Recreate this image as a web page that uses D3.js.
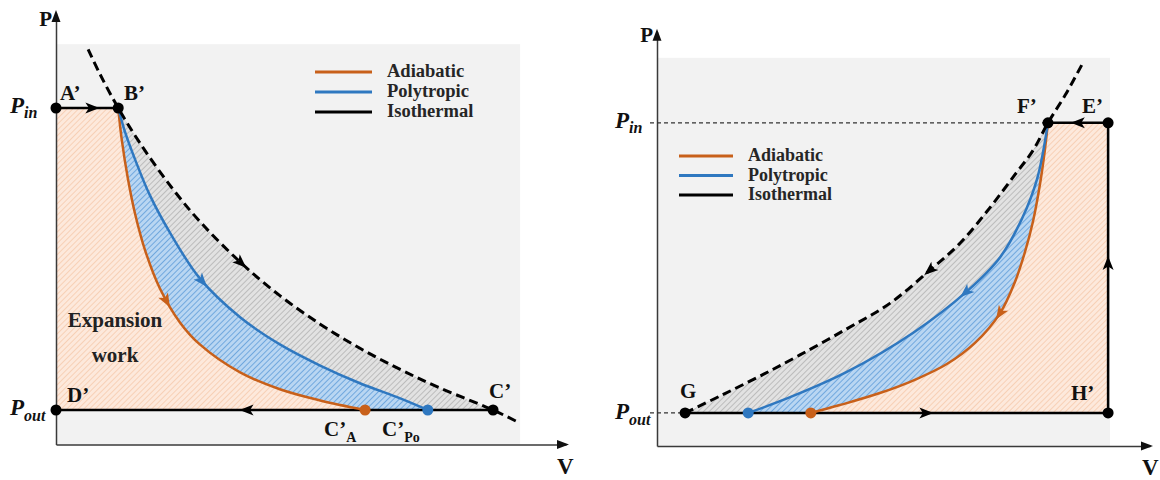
<!DOCTYPE html>
<html><head><meta charset="utf-8">
<script src="https://cdn.jsdelivr.net/npm/d3@7"></script>
<style>
body{margin:0;background:#fff}
svg{display:block}
</style>
</head><body>
<svg id="chart" width="1160" height="480"></svg>
<script>
// ---------------- DATA (V, P) in relative units ----------------
const P_IN = 78, P_OUT = 8;
const legendNames = ["Adiabatic", "Polytropic", "Isothermal"];

// Left panel: expansion
const leftPointNames = ["A’", "B’", "C’", "D’"];
const leftA = [0, 78], leftB = [12.2, 78], leftC = [85.7, 8], leftD = [0, 8];
const leftCA = [60.6, 8], leftCPo = [72.9, 8];
const leftAdiabatic = [[12.2,78],[12.9,70.6],[14.1,61.6],[15.5,53.5],[17.5,44.9],[20.4,36.1],[24.3,28.3],[28.2,23.2],[36.1,16.7],[43.9,12.8],[51.8,10.2],[60.6,8]];
const leftPolytropic = [[12.2,78],[13.5,72.6],[15.5,66.1],[18.4,57.8],[22.4,49.0],[28.2,38.5],[36.1,29.5],[43.9,23.2],[51.8,18.3],[59.6,14.2],[67.5,10.7],[72.9,8]];
const leftIsothermal = [[6.3,91.6],[8.6,85.9],[12.2,78],[16.5,69.8],[22.4,60.0],[28.2,51.7],[36.1,42.3],[43.9,34.5],[51.8,27.9],[59.6,22.3],[67.5,17.4],[75.3,13.1],[85.7,8],[90.4,5.3]];

// Right panel: compression
const rightPointNames = ["E’", "F’", "G", "H’"];
const rightG = [5.7, 8], rightF = [79.3, 78], rightE = [91.5, 78], rightH = [91.5, 8];
const rightDotA = [31.2, 8], rightDotPo = [18.5, 8];
const rightAdiabatic = [[31.2,8],[37.1,9.9],[45.2,12.8],[52.3,16.0],[58.8,19.8],[64.5,24.9],[69.6,32.1],[72.6,39.6],[74.6,46.7],[76.3,54.4],[77.7,63.3],[78.7,71.7],[79.3,78]];
const rightPolytropic = [[18.5,8],[27.0,11.8],[38.5,17.9],[51.9,27.3],[62.9,37.4],[69.6,45.6],[74.0,54.8],[77.1,64.5],[79.3,78]];
const rightIsothermal = [[5.7,8],[12.8,12.1],[20.9,16.9],[29.0,22.0],[38.5,28.3],[47.3,34.5],[55.4,42.5],[61.5,49.0],[67.5,57.5],[72.6,65.5],[76.3,71.4],[79.3,78],[82.8,84.7],[86.4,92.5]];

// ---------------- STYLE ----------------
const FONT = "'Liberation Serif', 'Times New Roman', Times, 'DejaVu Serif', serif";
const ORANGE = "#c8601a", BLUE = "#2f78c0", BLACK = "#000";
const svg = d3.select("#chart");
const defs = svg.append("defs");
function hatch(id, base, line) {
  const p = defs.append("pattern").attr("id", id).attr("width", 4).attr("height", 4)
    .attr("patternUnits", "userSpaceOnUse").attr("patternTransform", "rotate(45)");
  p.append("rect").attr("width", 4).attr("height", 4).attr("fill", base);
  p.append("line").attr("x1", 0).attr("y1", 0).attr("x2", 0).attr("y2", 4)
    .attr("stroke", line).attr("stroke-width", 1.3);
}
hatch("hPeach", "#fde9dc", "#f4c3a2");
hatch("hBlue", "#b9d6f2", "#4a8fd4");
hatch("hGrey", "#e2e2e2", "#a8a8a8");

function arrowHead(g, x, y, ang, color, len = 14, wid = 11) {
  const pts = [[len * 0.55, 0], [-len * 0.45, -wid / 2], [-len * 0.2, 0], [-len * 0.45, wid / 2]];
  g.append("polygon").attr("points", pts.map(p => p.join(",")).join(" "))
    .attr("fill", color)
    .attr("transform", `translate(${x},${y}) rotate(${ang * 180 / Math.PI})`);
}
function arrowOnPath(g, node, targetX, flip, color) {
  const L = node.getTotalLength();
  const inc = node.getPointAtLength(L).x > node.getPointAtLength(0).x;
  let lo = 0, hi = L;
  for (let i = 0; i < 40; i++) {
    const m = (lo + hi) / 2, p = node.getPointAtLength(m);
    if ((p.x < targetX) === inc) lo = m; else hi = m;
  }
  const l = (lo + hi) / 2, p = node.getPointAtLength(l);
  const a = node.getPointAtLength(Math.max(0, l - 3)), b = node.getPointAtLength(Math.min(L, l + 3));
  let ang = Math.atan2(b.y - a.y, b.x - a.x);
  if (flip) ang += Math.PI;
  arrowHead(g, p.x, p.y, ang, color);
}
function label(g, x, y, main, sub, opts = {}) {
  const t = g.append("text").attr("x", x).attr("y", y)
    .attr("font-family", FONT).attr("font-weight", "bold")
    .attr("fill", opts.fill || "#111")
    .attr("font-size", opts.size || 21).attr("text-anchor", opts.anchor || "start");
  if (opts.italic) t.attr("font-style", "italic");
  t.append("tspan").text(main);
  if (sub) t.append("tspan").attr("font-size", opts.subSize || 15).attr("dy", opts.subDy || 6).text(sub);
  return t;
}

// ---------------- PANEL ----------------
function panel(cfg) {
  const g = svg.append("g");
  const x = d3.scaleLinear().domain([0, 100]).range(cfg.xRange);
  const y = d3.scaleLinear().domain([0, 100]).range(cfg.yRange);
  const P = d => [x(d[0]), y(d[1])];
  const line = d3.line().x(d => x(d[0])).y(d => y(d[1])).curve(d3.curveCatmullRom.alpha(0.5));

  g.append("rect").attr("x", x(0) + 1).attr("y", y(cfg.boxTop))
    .attr("width", x(cfg.boxRight) - x(0) - 1).attr("height", y(0) - y(cfg.boxTop))
    .attr("fill", "#f2f2f2");

  cfg.fills.forEach(f => g.append("path").attr("d", f.d(line, P)).attr("fill", f.fill));

  const xa = g.append("g").attr("transform", `translate(0,${y(0)})`)
    .call(d3.axisBottom(x).tickValues([]).tickSizeOuter(0));
  const ya = g.append("g").attr("transform", `translate(${x(0)},0)`)
    .call(d3.axisLeft(y).tickValues([]).tickSizeOuter(0));
  [xa, ya].forEach(a => a.select(".domain").attr("stroke", "#3a3a3a").attr("stroke-width", 1.5));
  g.append("polygon").attr("points", `${x(100)+3},${y(0)} ${x(100)-9},${y(0)-4.5} ${x(100)-9},${y(0)+4.5}`).attr("fill", "#111");
  g.append("polygon").attr("points", `${x(0)},${y(100)-3} ${x(0)-4.5},${y(100)+9} ${x(0)+4.5},${y(100)+9}`).attr("fill", "#111");

  return { g, x, y, P, line };
}

// ======== LEFT ========
(function () {
  const isoSub = leftIsothermal.filter(d => d[0] >= leftB[0] && d[0] <= leftC[0]);
  const closeLeft = (line, P, pts) =>
    `M${P(leftA)}` + line(pts).replace(/^M/, "L") + `L${P(leftD)}Z`;
  const p = panel({
    xRange: [56, 566], yRange: [444.5, 13.1], boxTop: 92.8, boxRight: 91,
    fills: [
      { fill: "url(#hGrey)", d: (line, P) => closeLeft(line, P, isoSub) },
      { fill: "url(#hBlue)", d: (line, P) => closeLeft(line, P, leftPolytropic) },
      { fill: "url(#hPeach)", d: (line, P) => closeLeft(line, P, leftAdiabatic) }
    ]
  });
  const { g, x, y, P, line } = p;

  g.append("line").attr("x1", x(leftA[0])).attr("y1", y(leftA[1])).attr("x2", x(leftB[0])).attr("y2", y(leftB[1]))
    .attr("stroke", BLACK).attr("stroke-width", 2.5);
  g.append("line").attr("x1", x(leftD[0])).attr("y1", y(leftD[1])).attr("x2", x(leftC[0])).attr("y2", y(leftC[1]))
    .attr("stroke", BLACK).attr("stroke-width", 2.5);

  const ad = g.append("path").attr("d", line(leftAdiabatic)).attr("fill", "none").attr("stroke", ORANGE).attr("stroke-width", 2.5);
  const po = g.append("path").attr("d", line(leftPolytropic)).attr("fill", "none").attr("stroke", BLUE).attr("stroke-width", 2.5);
  const is = g.append("path").attr("d", line(leftIsothermal)).attr("fill", "none").attr("stroke", BLACK)
    .attr("stroke-width", 3).attr("stroke-dasharray", "9,5");

  arrowOnPath(g, ad.node(), x(21.6), false, ORANGE);
  arrowOnPath(g, po.node(), x(28.6), false, BLUE);
  arrowOnPath(g, is.node(), x(36.2), false, BLACK);
  arrowHead(g, x(7), y(P_IN), 0, BLACK);
  arrowHead(g, x(37.5), y(P_OUT), Math.PI, BLACK);

  [leftA, leftB, leftC, leftD].forEach(d => g.append("circle").attr("cx", x(d[0])).attr("cy", y(d[1])).attr("r", 5.5).attr("fill", BLACK));
  g.append("circle").attr("cx", x(leftCA[0])).attr("cy", y(leftCA[1])).attr("r", 5.5).attr("fill", ORANGE);
  g.append("circle").attr("cx", x(leftCPo[0])).attr("cy", y(leftCPo[1])).attr("r", 5.5).attr("fill", BLUE);

  label(g, 52, 26, "P", null, { size: 21, anchor: "end" });
  label(g, 10, y(P_IN) + 5, "P", "in", { italic: true, size: 23, subSize: 16, subDy: 5 });
  label(g, 10, y(P_OUT) + 5, "P", "out", { italic: true, size: 23, subSize: 16, subDy: 6 });
  label(g, 60, 100, leftPointNames[0]);
  label(g, 124, 100, leftPointNames[1]);
  label(g, 489, 398, leftPointNames[2]);
  label(g, 67, 402, leftPointNames[3]);
  label(g, 324, 436, "C’", "A", { size: 21, subSize: 14, subDy: 6 });
  label(g, 382, 436, "C’", "Po", { size: 21, subSize: 14, subDy: 6 });
  label(g, 557, 474, "V", null, { size: 23 });
  label(g, 115, 327, "Expansion", null, { size: 21, anchor: "middle", fill: "#222" });
  label(g, 115, 362, "work", null, { size: 21, anchor: "middle", fill: "#222" });

  const lc = [ORANGE, BLUE, BLACK];
  legendNames.forEach((n, i) => {
    const yy = 72 + i * 20;
    g.append("line").attr("x1", 315).attr("x2", 372).attr("y1", yy).attr("y2", yy).attr("stroke", lc[i]).attr("stroke-width", 3);
    label(g, 387, yy + 5, n, null, { size: 18.5, fill: "#262626" });
  });
})();

// ======== RIGHT ========
(function () {
  const isoSub = rightIsothermal.filter(d => d[0] >= rightG[0] && d[0] <= rightF[0]);
  const closeRight = (line, P, pts) => line(pts) + `L${P(rightE)}L${P(rightH)}Z`;
  const p = panel({
    xRange: [657, 1150], yRange: [446.1, 31.7], boxTop: 93.7, boxRight: 91.9,
    fills: [
      { fill: "url(#hGrey)", d: (line, P) => closeRight(line, P, isoSub) },
      { fill: "url(#hBlue)", d: (line, P) => closeRight(line, P, rightPolytropic) },
      { fill: "url(#hPeach)", d: (line, P) => closeRight(line, P, rightAdiabatic) }
    ]
  });
  const { g, x, y, P, line } = p;

  g.append("line").attr("x1", x(0) - 7).attr("x2", x(rightF[0])).attr("y1", y(P_IN)).attr("y2", y(P_IN))
    .attr("stroke", "#333").attr("stroke-width", 1.2).attr("stroke-dasharray", "4,3");
  g.append("line").attr("x1", x(0) - 7).attr("x2", x(rightG[0])).attr("y1", y(P_OUT)).attr("y2", y(P_OUT))
    .attr("stroke", "#333").attr("stroke-width", 1.2).attr("stroke-dasharray", "4,3");

  g.append("path").attr("d", `M${P(rightG)}L${P(rightH)}L${P(rightE)}L${P(rightF)}`)
    .attr("fill", "none").attr("stroke", BLACK).attr("stroke-width", 2.5).attr("stroke-linejoin", "round");

  const ad = g.append("path").attr("d", line(rightAdiabatic)).attr("fill", "none").attr("stroke", ORANGE).attr("stroke-width", 2.5);
  const po = g.append("path").attr("d", line(rightPolytropic)).attr("fill", "none").attr("stroke", BLUE).attr("stroke-width", 2.5);
  const is = g.append("path").attr("d", line(rightIsothermal)).attr("fill", "none").attr("stroke", BLACK)
    .attr("stroke-width", 3).attr("stroke-dasharray", "9,5");

  arrowOnPath(g, ad.node(), x(69.6), true, ORANGE);
  arrowOnPath(g, po.node(), x(62.7), true, BLUE);
  arrowOnPath(g, is.node(), x(55.4), true, BLACK);
  arrowHead(g, x(54.5), y(P_OUT), 0, BLACK);
  arrowHead(g, x(rightH[0]), y(44), -Math.PI / 2, BLACK);
  arrowHead(g, x(85.5), y(P_IN), Math.PI, BLACK);

  [rightG, rightF, rightE, rightH].forEach(d => g.append("circle").attr("cx", x(d[0])).attr("cy", y(d[1])).attr("r", 5.5).attr("fill", BLACK));
  g.append("circle").attr("cx", x(rightDotA[0])).attr("cy", y(rightDotA[1])).attr("r", 5.5).attr("fill", ORANGE);
  g.append("circle").attr("cx", x(rightDotPo[0])).attr("cy", y(rightDotPo[1])).attr("r", 5.5).attr("fill", BLUE);

  label(g, 653, 42, "P", null, { size: 21, anchor: "end" });
  label(g, 615, y(P_IN) + 5, "P", "in", { italic: true, size: 23, subSize: 16, subDy: 5 });
  label(g, 615, y(P_OUT) + 6, "P", "out", { italic: true, size: 23, subSize: 16, subDy: 6 });
  label(g, 1082, 113, rightPointNames[0]);
  label(g, 1017, 113, rightPointNames[1]);
  label(g, 680, 398, rightPointNames[2]);
  label(g, 1071, 400, rightPointNames[3]);
  label(g, 1142, 475, "V", null, { size: 23 });

  const lc = [ORANGE, BLUE, BLACK];
  legendNames.forEach((n, i) => {
    const yy = 156 + i * 19.5;
    g.append("line").attr("x1", 679).attr("x2", 733).attr("y1", yy).attr("y2", yy).attr("stroke", lc[i]).attr("stroke-width", 3);
    label(g, 748, yy + 5, n, null, { size: 18, fill: "#262626" });
  });
})();
</script>
</body></html>
